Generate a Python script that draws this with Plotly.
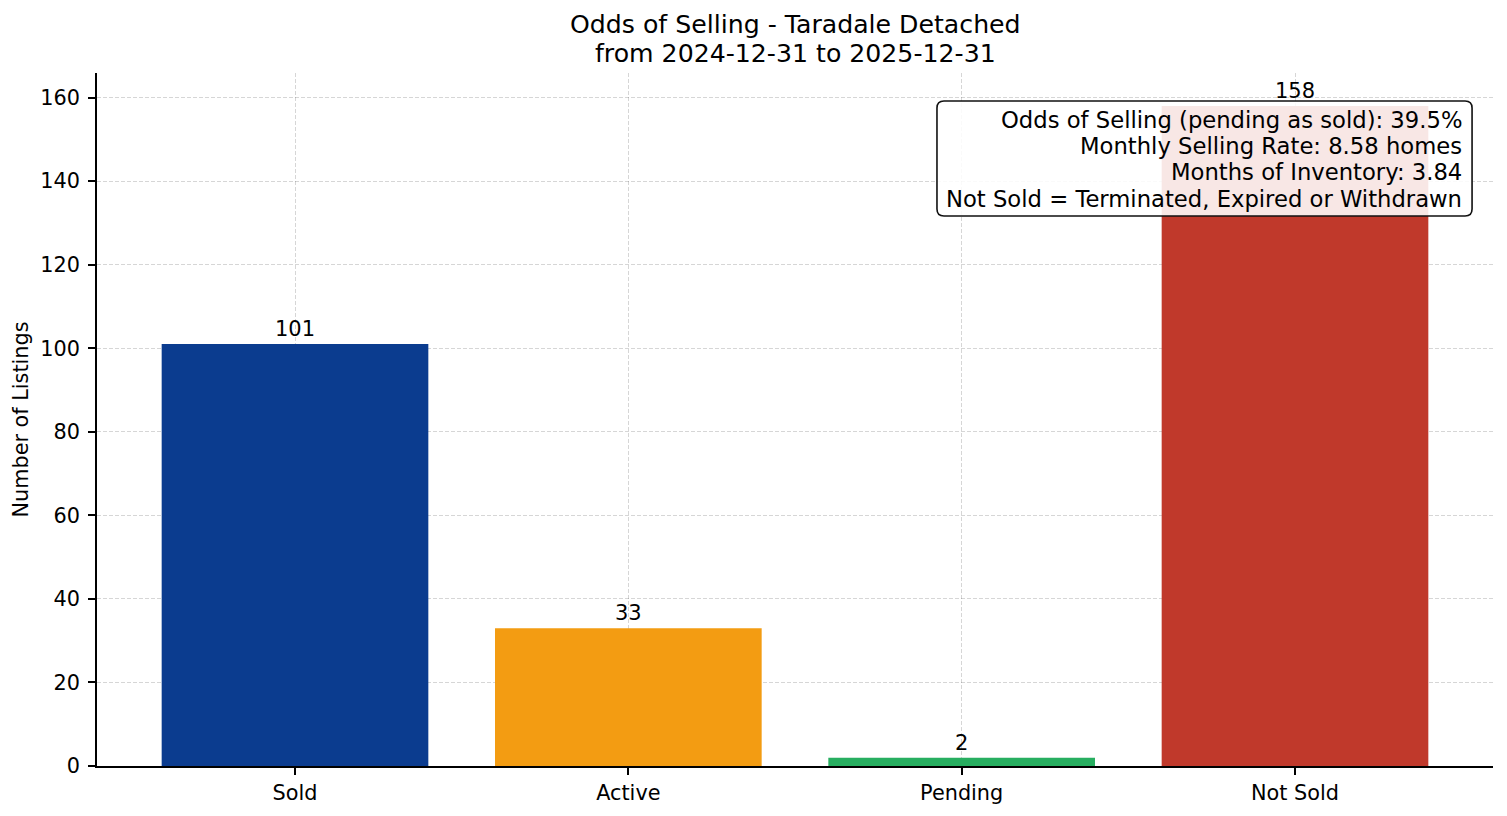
import plotly.graph_objects as go

categories = ['Sold', 'Active', 'Pending', 'Not Sold']
counts = [101, 33, 2, 158]
bar_colors = ['#0b3c8f', '#f39c12', '#27ae60', '#c0392b']

title_lines = ['Odds of Selling - Taradale Detached', 'from 2024-12-31 to 2025-12-31']
stats_lines = [
    'Odds of Selling (pending as sold): 39.5%',
    'Monthly Selling Rate: 8.58 homes',
    'Months of Inventory: 3.84',
    'Not Sold = Terminated, Expired or Withdrawn',
]

font = 'DejaVu Sans'
grid_col = 'rgba(0,0,0,0.16)'

fig = go.Figure(go.Bar(
    x=categories,
    y=counts,
    marker_color=bar_colors,
    marker_line_width=0,
    width=0.8,
    text=[str(c) for c in counts],
    textposition='outside',
    textfont=dict(size=21, color='black', family=font),
    cliponaxis=False,
))

# stats box (rounded rectangle) in paper coords
x0, x1, y0, y1 = 0.6017, 0.985, 0.7937, 0.9596
rx, ry = 7 / 1396, 7 / 693
box_path = (f'M {x0 + rx},{y0} L {x1 - rx},{y0} Q {x1},{y0} {x1},{y0 + ry} '
            f'L {x1},{y1 - ry} Q {x1},{y1} {x1 - rx},{y1} '
            f'L {x0 + rx},{y1} Q {x0},{y1} {x0},{y1 - ry} '
            f'L {x0},{y0 + ry} Q {x0},{y0} {x0 + rx},{y0} Z')
fig.add_shape(type='path', path=box_path, xref='paper', yref='paper',
              fillcolor='rgba(255,255,255,0.88)', line=dict(color='#111111', width=1.6),
              layer='above')

line_ys = [0.9322, 0.8947, 0.8571, 0.8182]
for txt, yy in zip(stats_lines, line_ys):
    fig.add_annotation(text=txt, xref='paper', yref='paper', x=0.9792, y=yy,
                       xanchor='right', yanchor='middle', showarrow=False,
                       font=dict(size=22.7, color='black', family=font))

# two-line title
for txt, yy in zip(title_lines, [1.0701, 1.0283]):
    fig.add_annotation(text=txt, xref='paper', yref='paper', x=0.5, y=yy,
                       xanchor='center', yanchor='middle', showarrow=False,
                       font=dict(size=25.2, color='black', family=font))

fig.update_layout(
    width=1491, height=800,
    paper_bgcolor='white',
    plot_bgcolor='white',
    margin=dict(l=89, r=6, t=65, b=42, autoexpand=False),
    font=dict(family=font, size=20.8, color='black'),
    showlegend=False,
    xaxis=dict(
        range=[-0.594, 3.594],
        automargin=False,
        showline=True, linecolor='black', linewidth=1.6,
        ticks='outside', ticklen=7, tickwidth=1.6, tickcolor='black',
        showgrid=True, gridcolor=grid_col, griddash='4px,2px', gridwidth=1,
        tickfont=dict(size=20.8),
        ticklabelstandoff=0,
        layer='above traces',
    ),
    yaxis=dict(
        range=[0, 165.9],
        dtick=20,
        automargin=False,
        showline=True, linecolor='black', linewidth=1.6,
        ticks='outside', ticklen=7, tickwidth=1.6, tickcolor='black',
        showgrid=True, gridcolor=grid_col, griddash='4px,2px', gridwidth=1,
        zeroline=False,
        tickfont=dict(size=20.8),
        ticklabelstandoff=4,
        title=dict(text='Number of Listings', font=dict(size=20.8), standoff=6),
        layer='above traces',
    ),
)

fig.write_html('out.html')
